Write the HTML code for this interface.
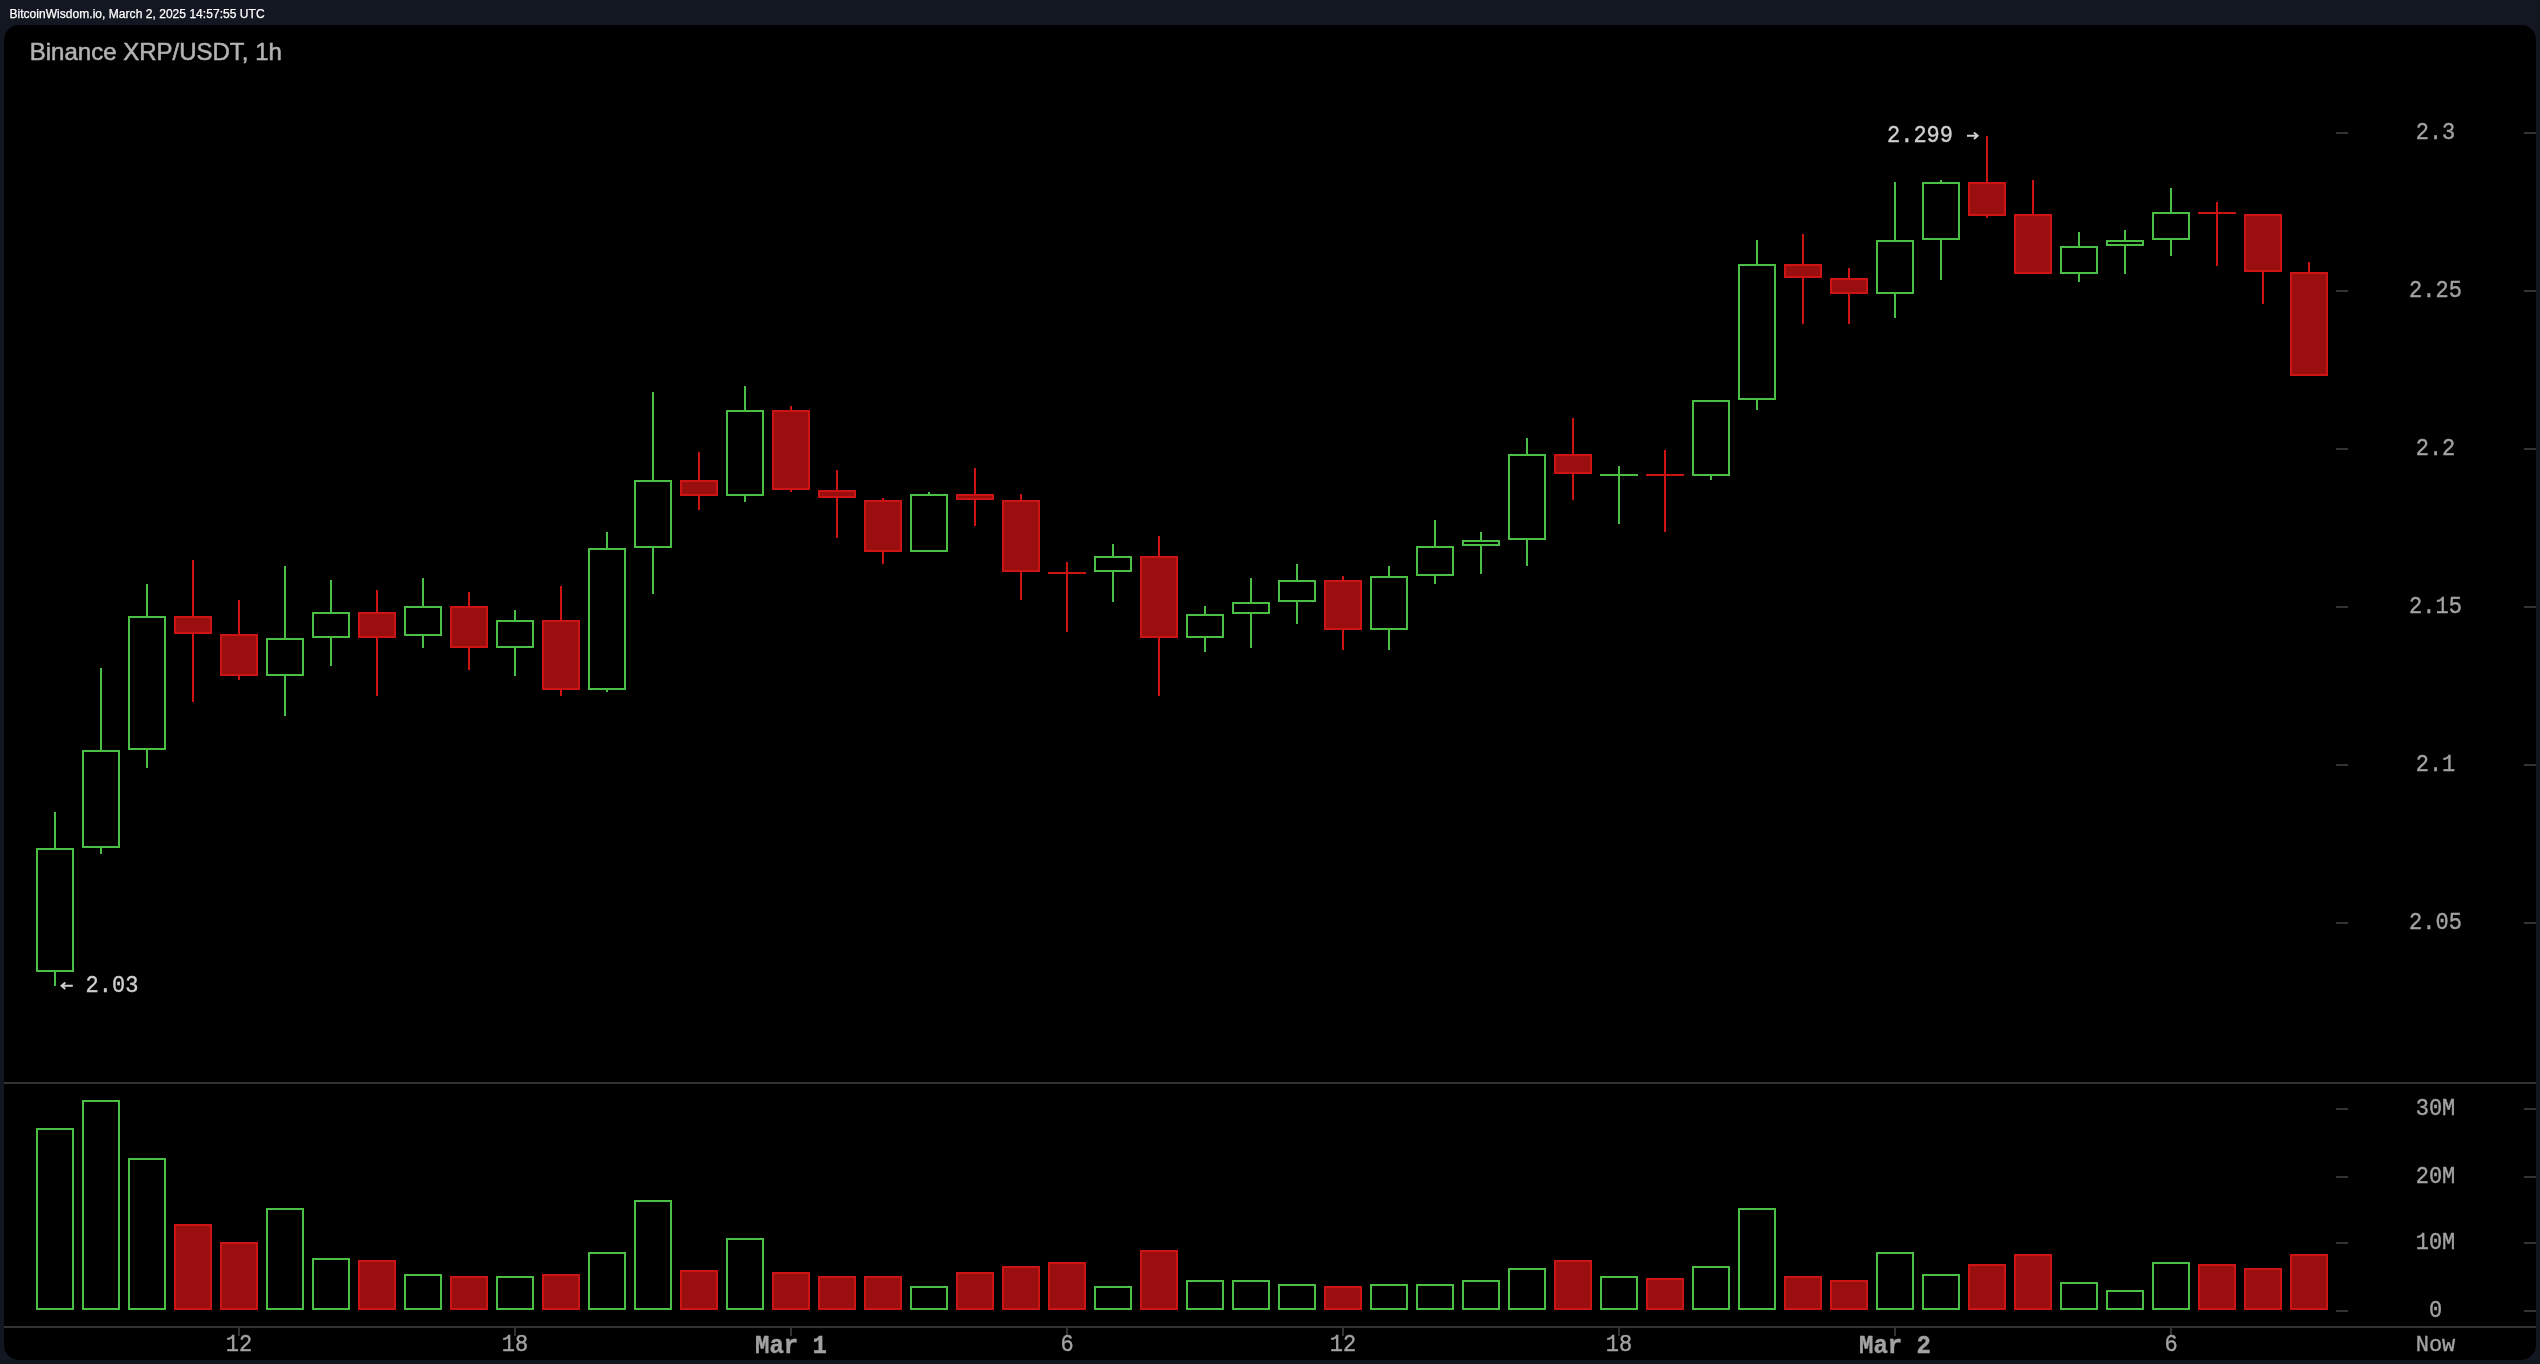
<!DOCTYPE html>
<html><head><meta charset="utf-8"><title>Binance XRP/USDT, 1h</title>
<style>
html,body{margin:0;padding:0}
body{width:2540px;height:1364px;background:#131722;position:relative;overflow:hidden;font-family:"Liberation Sans",sans-serif}
#hdr{position:absolute;left:9.4px;top:7.2px;letter-spacing:0.04px;font-size:12px;line-height:14px;color:#fff;white-space:pre;-webkit-text-stroke:0.25px #fff}
#panel{position:absolute;left:4px;top:25px;width:2532px;height:1335px;background:#000;border-radius:15px}
#title{position:absolute;left:29.75px;top:37.55px;font-size:24px;line-height:27px;color:#b2b2b2;white-space:pre;-webkit-text-stroke:0.55px #b2b2b2}
svg{position:absolute;left:0;top:0}
#txt{position:absolute;left:0;top:0;width:2540px;height:1364px;will-change:transform;transform:translateZ(0)}
.ax{position:absolute;width:200px;height:30px;line-height:30px;text-align:center;font-family:"Liberation Mono",monospace;font-size:22px;color:#a2a2a2;white-space:pre;-webkit-text-stroke:0.35px #a2a2a2;transform:scaleY(1.107)}
.b{font-weight:bold;font-size:24px}
.n{transform:none}
.h{color:transparent;-webkit-text-stroke:0 transparent}
.lb{position:absolute;height:30px;line-height:30px;font-family:"Liberation Mono",monospace;font-size:22px;color:#cfcfcf;white-space:pre;-webkit-text-stroke:0.35px #cfcfcf;transform:scaleY(1.107)}
</style></head>
<body>
<div id="txt">
<div id="hdr">BitcoinWisdom.io, March 2, 2025 14:57:55 UTC</div>
<div id="panel"></div>
<div id="title">Binance XRP/USDT, 1h</div>
<svg width="2540" height="1364" viewBox="0 0 2540 1364" shape-rendering="crispEdges">
<rect x="54" y="812" width="2" height="36" fill="#4ac044"/>
<rect x="54" y="972" width="2" height="14" fill="#4ac044"/>
<rect x="36" y="848" width="38" height="124" fill="#4ac044"/>
<rect x="38" y="850" width="34" height="120" fill="#000"/>
<rect x="36" y="1128" width="38" height="182" fill="#4ac044"/>
<rect x="38" y="1130" width="34" height="178" fill="#000"/>
<rect x="100" y="668" width="2" height="82" fill="#4ac044"/>
<rect x="100" y="848" width="2" height="6" fill="#4ac044"/>
<rect x="82" y="750" width="38" height="98" fill="#4ac044"/>
<rect x="84" y="752" width="34" height="94" fill="#000"/>
<rect x="82" y="1100" width="38" height="210" fill="#4ac044"/>
<rect x="84" y="1102" width="34" height="206" fill="#000"/>
<rect x="146" y="584" width="2" height="32" fill="#4ac044"/>
<rect x="146" y="750" width="2" height="18" fill="#4ac044"/>
<rect x="128" y="616" width="38" height="134" fill="#4ac044"/>
<rect x="130" y="618" width="34" height="130" fill="#000"/>
<rect x="128" y="1158" width="38" height="152" fill="#4ac044"/>
<rect x="130" y="1160" width="34" height="148" fill="#000"/>
<rect x="192" y="560" width="2" height="56" fill="#cd1414"/>
<rect x="192" y="634" width="2" height="68" fill="#cd1414"/>
<rect x="174" y="616" width="38" height="18" fill="#cd1414"/>
<rect x="176" y="618" width="34" height="14" fill="#9a0e10"/>
<rect x="174" y="1224" width="38" height="86" fill="#cd1414"/>
<rect x="176" y="1226" width="34" height="82" fill="#9a0e10"/>
<rect x="238" y="600" width="2" height="34" fill="#cd1414"/>
<rect x="238" y="676" width="2" height="4" fill="#cd1414"/>
<rect x="220" y="634" width="38" height="42" fill="#cd1414"/>
<rect x="222" y="636" width="34" height="38" fill="#9a0e10"/>
<rect x="220" y="1242" width="38" height="68" fill="#cd1414"/>
<rect x="222" y="1244" width="34" height="64" fill="#9a0e10"/>
<rect x="284" y="566" width="2" height="72" fill="#4ac044"/>
<rect x="284" y="676" width="2" height="40" fill="#4ac044"/>
<rect x="266" y="638" width="38" height="38" fill="#4ac044"/>
<rect x="268" y="640" width="34" height="34" fill="#000"/>
<rect x="266" y="1208" width="38" height="102" fill="#4ac044"/>
<rect x="268" y="1210" width="34" height="98" fill="#000"/>
<rect x="330" y="580" width="2" height="32" fill="#4ac044"/>
<rect x="330" y="638" width="2" height="28" fill="#4ac044"/>
<rect x="312" y="612" width="38" height="26" fill="#4ac044"/>
<rect x="314" y="614" width="34" height="22" fill="#000"/>
<rect x="312" y="1258" width="38" height="52" fill="#4ac044"/>
<rect x="314" y="1260" width="34" height="48" fill="#000"/>
<rect x="376" y="590" width="2" height="22" fill="#cd1414"/>
<rect x="376" y="638" width="2" height="58" fill="#cd1414"/>
<rect x="358" y="612" width="38" height="26" fill="#cd1414"/>
<rect x="360" y="614" width="34" height="22" fill="#9a0e10"/>
<rect x="358" y="1260" width="38" height="50" fill="#cd1414"/>
<rect x="360" y="1262" width="34" height="46" fill="#9a0e10"/>
<rect x="422" y="578" width="2" height="28" fill="#4ac044"/>
<rect x="422" y="636" width="2" height="12" fill="#4ac044"/>
<rect x="404" y="606" width="38" height="30" fill="#4ac044"/>
<rect x="406" y="608" width="34" height="26" fill="#000"/>
<rect x="404" y="1274" width="38" height="36" fill="#4ac044"/>
<rect x="406" y="1276" width="34" height="32" fill="#000"/>
<rect x="468" y="592" width="2" height="14" fill="#cd1414"/>
<rect x="468" y="648" width="2" height="22" fill="#cd1414"/>
<rect x="450" y="606" width="38" height="42" fill="#cd1414"/>
<rect x="452" y="608" width="34" height="38" fill="#9a0e10"/>
<rect x="450" y="1276" width="38" height="34" fill="#cd1414"/>
<rect x="452" y="1278" width="34" height="30" fill="#9a0e10"/>
<rect x="514" y="610" width="2" height="10" fill="#4ac044"/>
<rect x="514" y="648" width="2" height="28" fill="#4ac044"/>
<rect x="496" y="620" width="38" height="28" fill="#4ac044"/>
<rect x="498" y="622" width="34" height="24" fill="#000"/>
<rect x="496" y="1276" width="38" height="34" fill="#4ac044"/>
<rect x="498" y="1278" width="34" height="30" fill="#000"/>
<rect x="560" y="586" width="2" height="34" fill="#cd1414"/>
<rect x="560" y="690" width="2" height="6" fill="#cd1414"/>
<rect x="542" y="620" width="38" height="70" fill="#cd1414"/>
<rect x="544" y="622" width="34" height="66" fill="#9a0e10"/>
<rect x="542" y="1274" width="38" height="36" fill="#cd1414"/>
<rect x="544" y="1276" width="34" height="32" fill="#9a0e10"/>
<rect x="606" y="532" width="2" height="16" fill="#4ac044"/>
<rect x="606" y="690" width="2" height="2" fill="#4ac044"/>
<rect x="588" y="548" width="38" height="142" fill="#4ac044"/>
<rect x="590" y="550" width="34" height="138" fill="#000"/>
<rect x="588" y="1252" width="38" height="58" fill="#4ac044"/>
<rect x="590" y="1254" width="34" height="54" fill="#000"/>
<rect x="652" y="392" width="2" height="88" fill="#4ac044"/>
<rect x="652" y="548" width="2" height="46" fill="#4ac044"/>
<rect x="634" y="480" width="38" height="68" fill="#4ac044"/>
<rect x="636" y="482" width="34" height="64" fill="#000"/>
<rect x="634" y="1200" width="38" height="110" fill="#4ac044"/>
<rect x="636" y="1202" width="34" height="106" fill="#000"/>
<rect x="698" y="452" width="2" height="28" fill="#cd1414"/>
<rect x="698" y="496" width="2" height="14" fill="#cd1414"/>
<rect x="680" y="480" width="38" height="16" fill="#cd1414"/>
<rect x="682" y="482" width="34" height="12" fill="#9a0e10"/>
<rect x="680" y="1270" width="38" height="40" fill="#cd1414"/>
<rect x="682" y="1272" width="34" height="36" fill="#9a0e10"/>
<rect x="744" y="386" width="2" height="24" fill="#4ac044"/>
<rect x="744" y="496" width="2" height="6" fill="#4ac044"/>
<rect x="726" y="410" width="38" height="86" fill="#4ac044"/>
<rect x="728" y="412" width="34" height="82" fill="#000"/>
<rect x="726" y="1238" width="38" height="72" fill="#4ac044"/>
<rect x="728" y="1240" width="34" height="68" fill="#000"/>
<rect x="790" y="406" width="2" height="4" fill="#cd1414"/>
<rect x="790" y="490" width="2" height="2" fill="#cd1414"/>
<rect x="772" y="410" width="38" height="80" fill="#cd1414"/>
<rect x="774" y="412" width="34" height="76" fill="#9a0e10"/>
<rect x="772" y="1272" width="38" height="38" fill="#cd1414"/>
<rect x="774" y="1274" width="34" height="34" fill="#9a0e10"/>
<rect x="836" y="470" width="2" height="20" fill="#cd1414"/>
<rect x="836" y="498" width="2" height="40" fill="#cd1414"/>
<rect x="818" y="490" width="38" height="8" fill="#cd1414"/>
<rect x="820" y="492" width="34" height="4" fill="#9a0e10"/>
<rect x="818" y="1276" width="38" height="34" fill="#cd1414"/>
<rect x="820" y="1278" width="34" height="30" fill="#9a0e10"/>
<rect x="882" y="498" width="2" height="2" fill="#cd1414"/>
<rect x="882" y="552" width="2" height="12" fill="#cd1414"/>
<rect x="864" y="500" width="38" height="52" fill="#cd1414"/>
<rect x="866" y="502" width="34" height="48" fill="#9a0e10"/>
<rect x="864" y="1276" width="38" height="34" fill="#cd1414"/>
<rect x="866" y="1278" width="34" height="30" fill="#9a0e10"/>
<rect x="928" y="492" width="2" height="2" fill="#4ac044"/>
<rect x="910" y="494" width="38" height="58" fill="#4ac044"/>
<rect x="912" y="496" width="34" height="54" fill="#000"/>
<rect x="910" y="1286" width="38" height="24" fill="#4ac044"/>
<rect x="912" y="1288" width="34" height="20" fill="#000"/>
<rect x="974" y="468" width="2" height="26" fill="#cd1414"/>
<rect x="974" y="500" width="2" height="26" fill="#cd1414"/>
<rect x="956" y="494" width="38" height="6" fill="#cd1414"/>
<rect x="958" y="496" width="34" height="2" fill="#9a0e10"/>
<rect x="956" y="1272" width="38" height="38" fill="#cd1414"/>
<rect x="958" y="1274" width="34" height="34" fill="#9a0e10"/>
<rect x="1020" y="494" width="2" height="6" fill="#cd1414"/>
<rect x="1020" y="572" width="2" height="28" fill="#cd1414"/>
<rect x="1002" y="500" width="38" height="72" fill="#cd1414"/>
<rect x="1004" y="502" width="34" height="68" fill="#9a0e10"/>
<rect x="1002" y="1266" width="38" height="44" fill="#cd1414"/>
<rect x="1004" y="1268" width="34" height="40" fill="#9a0e10"/>
<rect x="1066" y="562" width="2" height="10" fill="#cd1414"/>
<rect x="1066" y="574" width="2" height="58" fill="#cd1414"/>
<rect x="1048" y="572" width="38" height="2" fill="#cd1414"/>
<rect x="1066" y="572" width="2" height="2" fill="#cd1414"/>
<rect x="1048" y="1262" width="38" height="48" fill="#cd1414"/>
<rect x="1050" y="1264" width="34" height="44" fill="#9a0e10"/>
<rect x="1112" y="544" width="2" height="12" fill="#4ac044"/>
<rect x="1112" y="572" width="2" height="30" fill="#4ac044"/>
<rect x="1094" y="556" width="38" height="16" fill="#4ac044"/>
<rect x="1096" y="558" width="34" height="12" fill="#000"/>
<rect x="1094" y="1286" width="38" height="24" fill="#4ac044"/>
<rect x="1096" y="1288" width="34" height="20" fill="#000"/>
<rect x="1158" y="536" width="2" height="20" fill="#cd1414"/>
<rect x="1158" y="638" width="2" height="58" fill="#cd1414"/>
<rect x="1140" y="556" width="38" height="82" fill="#cd1414"/>
<rect x="1142" y="558" width="34" height="78" fill="#9a0e10"/>
<rect x="1140" y="1250" width="38" height="60" fill="#cd1414"/>
<rect x="1142" y="1252" width="34" height="56" fill="#9a0e10"/>
<rect x="1204" y="606" width="2" height="8" fill="#4ac044"/>
<rect x="1204" y="638" width="2" height="14" fill="#4ac044"/>
<rect x="1186" y="614" width="38" height="24" fill="#4ac044"/>
<rect x="1188" y="616" width="34" height="20" fill="#000"/>
<rect x="1186" y="1280" width="38" height="30" fill="#4ac044"/>
<rect x="1188" y="1282" width="34" height="26" fill="#000"/>
<rect x="1250" y="578" width="2" height="24" fill="#4ac044"/>
<rect x="1250" y="614" width="2" height="34" fill="#4ac044"/>
<rect x="1232" y="602" width="38" height="12" fill="#4ac044"/>
<rect x="1234" y="604" width="34" height="8" fill="#000"/>
<rect x="1232" y="1280" width="38" height="30" fill="#4ac044"/>
<rect x="1234" y="1282" width="34" height="26" fill="#000"/>
<rect x="1296" y="564" width="2" height="16" fill="#4ac044"/>
<rect x="1296" y="602" width="2" height="22" fill="#4ac044"/>
<rect x="1278" y="580" width="38" height="22" fill="#4ac044"/>
<rect x="1280" y="582" width="34" height="18" fill="#000"/>
<rect x="1278" y="1284" width="38" height="26" fill="#4ac044"/>
<rect x="1280" y="1286" width="34" height="22" fill="#000"/>
<rect x="1342" y="576" width="2" height="4" fill="#cd1414"/>
<rect x="1342" y="630" width="2" height="20" fill="#cd1414"/>
<rect x="1324" y="580" width="38" height="50" fill="#cd1414"/>
<rect x="1326" y="582" width="34" height="46" fill="#9a0e10"/>
<rect x="1324" y="1286" width="38" height="24" fill="#cd1414"/>
<rect x="1326" y="1288" width="34" height="20" fill="#9a0e10"/>
<rect x="1388" y="566" width="2" height="10" fill="#4ac044"/>
<rect x="1388" y="630" width="2" height="20" fill="#4ac044"/>
<rect x="1370" y="576" width="38" height="54" fill="#4ac044"/>
<rect x="1372" y="578" width="34" height="50" fill="#000"/>
<rect x="1370" y="1284" width="38" height="26" fill="#4ac044"/>
<rect x="1372" y="1286" width="34" height="22" fill="#000"/>
<rect x="1434" y="520" width="2" height="26" fill="#4ac044"/>
<rect x="1434" y="576" width="2" height="8" fill="#4ac044"/>
<rect x="1416" y="546" width="38" height="30" fill="#4ac044"/>
<rect x="1418" y="548" width="34" height="26" fill="#000"/>
<rect x="1416" y="1284" width="38" height="26" fill="#4ac044"/>
<rect x="1418" y="1286" width="34" height="22" fill="#000"/>
<rect x="1480" y="532" width="2" height="8" fill="#4ac044"/>
<rect x="1480" y="546" width="2" height="28" fill="#4ac044"/>
<rect x="1462" y="540" width="38" height="6" fill="#4ac044"/>
<rect x="1464" y="542" width="34" height="2" fill="#000"/>
<rect x="1462" y="1280" width="38" height="30" fill="#4ac044"/>
<rect x="1464" y="1282" width="34" height="26" fill="#000"/>
<rect x="1526" y="438" width="2" height="16" fill="#4ac044"/>
<rect x="1526" y="540" width="2" height="26" fill="#4ac044"/>
<rect x="1508" y="454" width="38" height="86" fill="#4ac044"/>
<rect x="1510" y="456" width="34" height="82" fill="#000"/>
<rect x="1508" y="1268" width="38" height="42" fill="#4ac044"/>
<rect x="1510" y="1270" width="34" height="38" fill="#000"/>
<rect x="1572" y="418" width="2" height="36" fill="#cd1414"/>
<rect x="1572" y="474" width="2" height="26" fill="#cd1414"/>
<rect x="1554" y="454" width="38" height="20" fill="#cd1414"/>
<rect x="1556" y="456" width="34" height="16" fill="#9a0e10"/>
<rect x="1554" y="1260" width="38" height="50" fill="#cd1414"/>
<rect x="1556" y="1262" width="34" height="46" fill="#9a0e10"/>
<rect x="1618" y="466" width="2" height="8" fill="#4ac044"/>
<rect x="1618" y="476" width="2" height="48" fill="#4ac044"/>
<rect x="1600" y="474" width="38" height="2" fill="#4ac044"/>
<rect x="1618" y="474" width="2" height="2" fill="#4ac044"/>
<rect x="1600" y="1276" width="38" height="34" fill="#4ac044"/>
<rect x="1602" y="1278" width="34" height="30" fill="#000"/>
<rect x="1664" y="450" width="2" height="24" fill="#cd1414"/>
<rect x="1664" y="476" width="2" height="56" fill="#cd1414"/>
<rect x="1646" y="474" width="38" height="2" fill="#cd1414"/>
<rect x="1664" y="474" width="2" height="2" fill="#cd1414"/>
<rect x="1646" y="1278" width="38" height="32" fill="#cd1414"/>
<rect x="1648" y="1280" width="34" height="28" fill="#9a0e10"/>
<rect x="1710" y="476" width="2" height="4" fill="#4ac044"/>
<rect x="1692" y="400" width="38" height="76" fill="#4ac044"/>
<rect x="1694" y="402" width="34" height="72" fill="#000"/>
<rect x="1692" y="1266" width="38" height="44" fill="#4ac044"/>
<rect x="1694" y="1268" width="34" height="40" fill="#000"/>
<rect x="1756" y="240" width="2" height="24" fill="#4ac044"/>
<rect x="1756" y="400" width="2" height="10" fill="#4ac044"/>
<rect x="1738" y="264" width="38" height="136" fill="#4ac044"/>
<rect x="1740" y="266" width="34" height="132" fill="#000"/>
<rect x="1738" y="1208" width="38" height="102" fill="#4ac044"/>
<rect x="1740" y="1210" width="34" height="98" fill="#000"/>
<rect x="1802" y="234" width="2" height="30" fill="#cd1414"/>
<rect x="1802" y="278" width="2" height="46" fill="#cd1414"/>
<rect x="1784" y="264" width="38" height="14" fill="#cd1414"/>
<rect x="1786" y="266" width="34" height="10" fill="#9a0e10"/>
<rect x="1784" y="1276" width="38" height="34" fill="#cd1414"/>
<rect x="1786" y="1278" width="34" height="30" fill="#9a0e10"/>
<rect x="1848" y="268" width="2" height="10" fill="#cd1414"/>
<rect x="1848" y="294" width="2" height="30" fill="#cd1414"/>
<rect x="1830" y="278" width="38" height="16" fill="#cd1414"/>
<rect x="1832" y="280" width="34" height="12" fill="#9a0e10"/>
<rect x="1830" y="1280" width="38" height="30" fill="#cd1414"/>
<rect x="1832" y="1282" width="34" height="26" fill="#9a0e10"/>
<rect x="1894" y="182" width="2" height="58" fill="#4ac044"/>
<rect x="1894" y="294" width="2" height="24" fill="#4ac044"/>
<rect x="1876" y="240" width="38" height="54" fill="#4ac044"/>
<rect x="1878" y="242" width="34" height="50" fill="#000"/>
<rect x="1876" y="1252" width="38" height="58" fill="#4ac044"/>
<rect x="1878" y="1254" width="34" height="54" fill="#000"/>
<rect x="1940" y="180" width="2" height="2" fill="#4ac044"/>
<rect x="1940" y="240" width="2" height="40" fill="#4ac044"/>
<rect x="1922" y="182" width="38" height="58" fill="#4ac044"/>
<rect x="1924" y="184" width="34" height="54" fill="#000"/>
<rect x="1922" y="1274" width="38" height="36" fill="#4ac044"/>
<rect x="1924" y="1276" width="34" height="32" fill="#000"/>
<rect x="1986" y="136" width="2" height="46" fill="#cd1414"/>
<rect x="1986" y="216" width="2" height="2" fill="#cd1414"/>
<rect x="1968" y="182" width="38" height="34" fill="#cd1414"/>
<rect x="1970" y="184" width="34" height="30" fill="#9a0e10"/>
<rect x="1968" y="1264" width="38" height="46" fill="#cd1414"/>
<rect x="1970" y="1266" width="34" height="42" fill="#9a0e10"/>
<rect x="2032" y="180" width="2" height="34" fill="#cd1414"/>
<rect x="2014" y="214" width="38" height="60" fill="#cd1414"/>
<rect x="2016" y="216" width="34" height="56" fill="#9a0e10"/>
<rect x="2014" y="1254" width="38" height="56" fill="#cd1414"/>
<rect x="2016" y="1256" width="34" height="52" fill="#9a0e10"/>
<rect x="2078" y="232" width="2" height="14" fill="#4ac044"/>
<rect x="2078" y="274" width="2" height="8" fill="#4ac044"/>
<rect x="2060" y="246" width="38" height="28" fill="#4ac044"/>
<rect x="2062" y="248" width="34" height="24" fill="#000"/>
<rect x="2060" y="1282" width="38" height="28" fill="#4ac044"/>
<rect x="2062" y="1284" width="34" height="24" fill="#000"/>
<rect x="2124" y="230" width="2" height="10" fill="#4ac044"/>
<rect x="2124" y="246" width="2" height="28" fill="#4ac044"/>
<rect x="2106" y="240" width="38" height="6" fill="#4ac044"/>
<rect x="2108" y="242" width="34" height="2" fill="#000"/>
<rect x="2106" y="1290" width="38" height="20" fill="#4ac044"/>
<rect x="2108" y="1292" width="34" height="16" fill="#000"/>
<rect x="2170" y="188" width="2" height="24" fill="#4ac044"/>
<rect x="2170" y="240" width="2" height="16" fill="#4ac044"/>
<rect x="2152" y="212" width="38" height="28" fill="#4ac044"/>
<rect x="2154" y="214" width="34" height="24" fill="#000"/>
<rect x="2152" y="1262" width="38" height="48" fill="#4ac044"/>
<rect x="2154" y="1264" width="34" height="44" fill="#000"/>
<rect x="2216" y="202" width="2" height="10" fill="#cd1414"/>
<rect x="2216" y="214" width="2" height="52" fill="#cd1414"/>
<rect x="2198" y="212" width="38" height="2" fill="#cd1414"/>
<rect x="2216" y="212" width="2" height="2" fill="#cd1414"/>
<rect x="2198" y="1264" width="38" height="46" fill="#cd1414"/>
<rect x="2200" y="1266" width="34" height="42" fill="#9a0e10"/>
<rect x="2262" y="272" width="2" height="32" fill="#cd1414"/>
<rect x="2244" y="214" width="38" height="58" fill="#cd1414"/>
<rect x="2246" y="216" width="34" height="54" fill="#9a0e10"/>
<rect x="2244" y="1268" width="38" height="42" fill="#cd1414"/>
<rect x="2246" y="1270" width="34" height="38" fill="#9a0e10"/>
<rect x="2308" y="262" width="2" height="10" fill="#cd1414"/>
<rect x="2290" y="272" width="38" height="104" fill="#cd1414"/>
<rect x="2292" y="274" width="34" height="100" fill="#9a0e10"/>
<rect x="2290" y="1254" width="38" height="56" fill="#cd1414"/>
<rect x="2292" y="1256" width="34" height="52" fill="#9a0e10"/>
<rect x="2336" y="132" width="12" height="2" fill="#333333"/>
<rect x="2524" y="132" width="12" height="2" fill="#333333"/>
<rect x="2336" y="290" width="12" height="2" fill="#333333"/>
<rect x="2524" y="290" width="12" height="2" fill="#333333"/>
<rect x="2336" y="448" width="12" height="2" fill="#333333"/>
<rect x="2524" y="448" width="12" height="2" fill="#333333"/>
<rect x="2336" y="606" width="12" height="2" fill="#333333"/>
<rect x="2524" y="606" width="12" height="2" fill="#333333"/>
<rect x="2336" y="764" width="12" height="2" fill="#333333"/>
<rect x="2524" y="764" width="12" height="2" fill="#333333"/>
<rect x="2336" y="922" width="12" height="2" fill="#333333"/>
<rect x="2524" y="922" width="12" height="2" fill="#333333"/>
<rect x="2336" y="1108" width="12" height="2" fill="#333333"/>
<rect x="2524" y="1108" width="12" height="2" fill="#333333"/>
<rect x="2336" y="1176" width="12" height="2" fill="#333333"/>
<rect x="2524" y="1176" width="12" height="2" fill="#333333"/>
<rect x="2336" y="1242" width="12" height="2" fill="#333333"/>
<rect x="2524" y="1242" width="12" height="2" fill="#333333"/>
<rect x="2336" y="1310" width="12" height="2" fill="#333333"/>
<rect x="2524" y="1310" width="12" height="2" fill="#333333"/>
<rect x="4" y="1082" width="2532" height="2" fill="#333333"/>
<rect x="4" y="1326" width="2532" height="2" fill="#333333"/>
<rect x="238" y="1328" width="2" height="8" fill="#333333"/>
<rect x="514" y="1328" width="2" height="8" fill="#333333"/>
<rect x="790" y="1328" width="2" height="8" fill="#333333"/>
<rect x="1066" y="1328" width="2" height="8" fill="#333333"/>
<rect x="1342" y="1328" width="2" height="8" fill="#333333"/>
<rect x="1618" y="1328" width="2" height="8" fill="#333333"/>
<rect x="1894" y="1328" width="2" height="8" fill="#333333"/>
<rect x="2170" y="1328" width="2" height="8" fill="#333333"/>
<path d="M72.8 985.7H61.5M65.3 982.5L61.5 985.7L65.3 988.9" fill="none" stroke="#cfcfcf" stroke-width="1.9" stroke-linejoin="miter" shape-rendering="geometricPrecision"/>
<path d="M1967.0 135.7H1977.7M1973.9 132.5L1977.7 135.7L1973.9 138.9" fill="none" stroke="#cfcfcf" stroke-width="1.9" stroke-linejoin="miter" shape-rendering="geometricPrecision"/>
</svg>
<div class="ax" style="left:2335.5px;top:117.65px">2.3</div>
<div class="ax" style="left:2335.5px;top:275.65px">2.25</div>
<div class="ax" style="left:2335.5px;top:433.65px">2.2</div>
<div class="ax" style="left:2335.5px;top:591.65px">2.15</div>
<div class="ax" style="left:2335.5px;top:749.65px">2.1</div>
<div class="ax" style="left:2335.5px;top:907.65px">2.05</div>
<div class="ax" style="left:2335.5px;top:1093.65px">30M</div>
<div class="ax" style="left:2335.5px;top:1161.65px">20M</div>
<div class="ax" style="left:2335.5px;top:1227.65px">10M</div>
<div class="ax" style="left:2335.5px;top:1295.65px">0</div>
<div class="ax" style="left:139px;top:1329.95px">12</div>
<div class="ax" style="left:415px;top:1329.95px">18</div>
<div class="ax b" style="left:691px;top:1330.8px">Mar 1</div>
<div class="ax" style="left:967px;top:1329.95px">6</div>
<div class="ax" style="left:1243px;top:1329.95px">12</div>
<div class="ax" style="left:1519px;top:1329.95px">18</div>
<div class="ax b" style="left:1795px;top:1330.8px">Mar 2</div>
<div class="ax" style="left:2071px;top:1329.95px">6</div>
<div class="ax n" style="left:2335.5px;top:1330.6px">Now</div>
<div class="lb" style="left:59.2px;top:970.55px"><span class="h">&#8592; </span>2.03</div>
<div class="lb" style="left:1887.0px;top:120.55px">2.299<span class="h"> &#8594;</span></div>
</div>
</body></html>
